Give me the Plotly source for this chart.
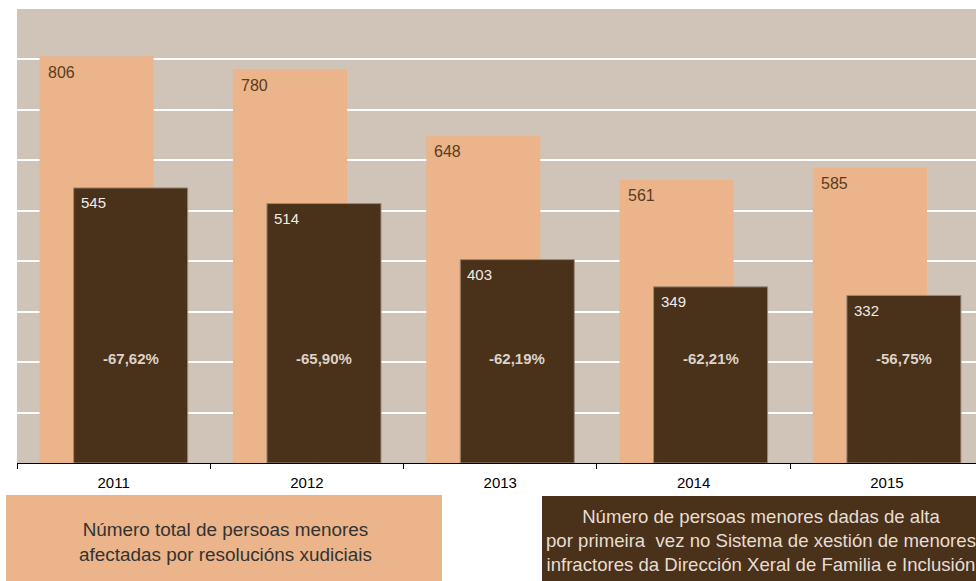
import plotly.graph_objects as go

years = ["2011", "2012", "2013", "2014", "2015"]
total_minors = [806, 780, 648, 561, 585]
registered_minors = [545, 514, 403, 349, 332]
pct_labels = ["-67,62%", "-65,90%", "-62,19%", "-62,21%", "-56,75%"]
legend_total = "Número total de persoas menores<br>afectadas por resolucións xudiciais"
legend_registered = ("Número de persoas menores dadas de alta<br>"
                     "por primeira  vez no Sistema de xestión de menores<br>"
                     "infractores da Dirección Xeral de Familia e Inclusión")

LIGHT = "#ebb48a"
DARK = "#4a3119"
BG = "#d0c4b9"
FONT = "Liberation Sans, Arial, sans-serif"

W = 976
H = 581
ML, MR, MT, MB = 17, 0, 9, 118
BAR_W = 0.59
LIGHT_OFF = -0.383
DARK_OFF = -0.207

fig = go.Figure()
fig.add_trace(go.Bar(
    x=years, y=total_minors, width=BAR_W, offset=LIGHT_OFF,
    marker=dict(color=LIGHT, line=dict(width=0)), hoverinfo="skip",
))
fig.add_trace(go.Bar(
    x=years, y=registered_minors, width=BAR_W, offset=DARK_OFF,
    marker=dict(color=DARK, line=dict(color="#9c8a78", width=1)), hoverinfo="skip",
))

annotations = []
for i, (t, r, p) in enumerate(zip(total_minors, registered_minors, pct_labels)):
    annotations.append(dict(x=i + LIGHT_OFF, y=t, xref="x", yref="y", text=str(t),
                            showarrow=False, xanchor="left", yanchor="middle",
                            xshift=6, yshift=-16,
                            font=dict(family=FONT, size=16, color="#5a3c1e")))
    annotations.append(dict(x=i + DARK_OFF, y=r, xref="x", yref="y", text=str(r),
                            showarrow=False, xanchor="left", yanchor="middle",
                            xshift=5, yshift=-15,
                            font=dict(family=FONT, size=15, color="#f0ebe6")))
    annotations.append(dict(x=i + DARK_OFF + BAR_W / 2, y=208, xref="x", yref="y",
                            text="<b>" + p + "</b>", showarrow=False,
                            xanchor="center", yanchor="middle",
                            font=dict(family=FONT, size=15, color="#ddd3c8")))

pw = W - ML - MR
ph = H - MT - MB


def px_x(v):
    return (v - ML) / pw


def px_y(v):
    return (H - MB - v) / ph


shapes = [
    dict(type="rect", xref="paper", yref="paper", x0=px_x(6), x1=px_x(442),
         y0=px_y(495), y1=px_y(581), fillcolor=LIGHT, line=dict(width=0), layer="above"),
    dict(type="rect", xref="paper", yref="paper", x0=px_x(542), x1=px_x(990),
         y0=px_y(496), y1=px_y(581), fillcolor=DARK, line=dict(width=0), layer="above"),
]

annotations.append(dict(x=px_x(225), y=px_y(541.5), xref="paper", yref="paper",
                        text=legend_total, showarrow=False, xanchor="center",
                        yanchor="middle", align="center",
                        font=dict(family=FONT, size=18.9, color="#333333")))
annotations.append(dict(x=px_x(761), y=px_y(540.5), xref="paper", yref="paper",
                        text=legend_registered, showarrow=False, xanchor="center",
                        yanchor="middle", align="center",
                        font=dict(family=FONT, size=18.6, color="#e6ddd4")))

fig.update_layout(
    width=W, height=H,
    margin=dict(l=ML, r=MR, t=MT, b=MB, pad=0),
    paper_bgcolor="white", plot_bgcolor=BG,
    barmode="overlay", showlegend=False,
    shapes=shapes, annotations=annotations,
    xaxis=dict(type="category", categoryorder="array", categoryarray=years,
               range=[-0.5, 4.461], tickson="boundaries", ticks="outside",
               ticklen=5, tickcolor="black", tickwidth=1, ticklabelstandoff=6,
               showline=True, linecolor="black", linewidth=1, showgrid=False,
               tickfont=dict(family=FONT, size=15, color="black")),
    yaxis=dict(range=[0, 899.5], dtick=100, showgrid=True, gridcolor="white",
               gridwidth=2, zeroline=False, showticklabels=False, showline=False,
               ticks=""),
)

fig.write_html("out.html", config={"displayModeBar": False},
               post_script="document.body.style.margin='0';document.body.style.overflow='hidden';")
